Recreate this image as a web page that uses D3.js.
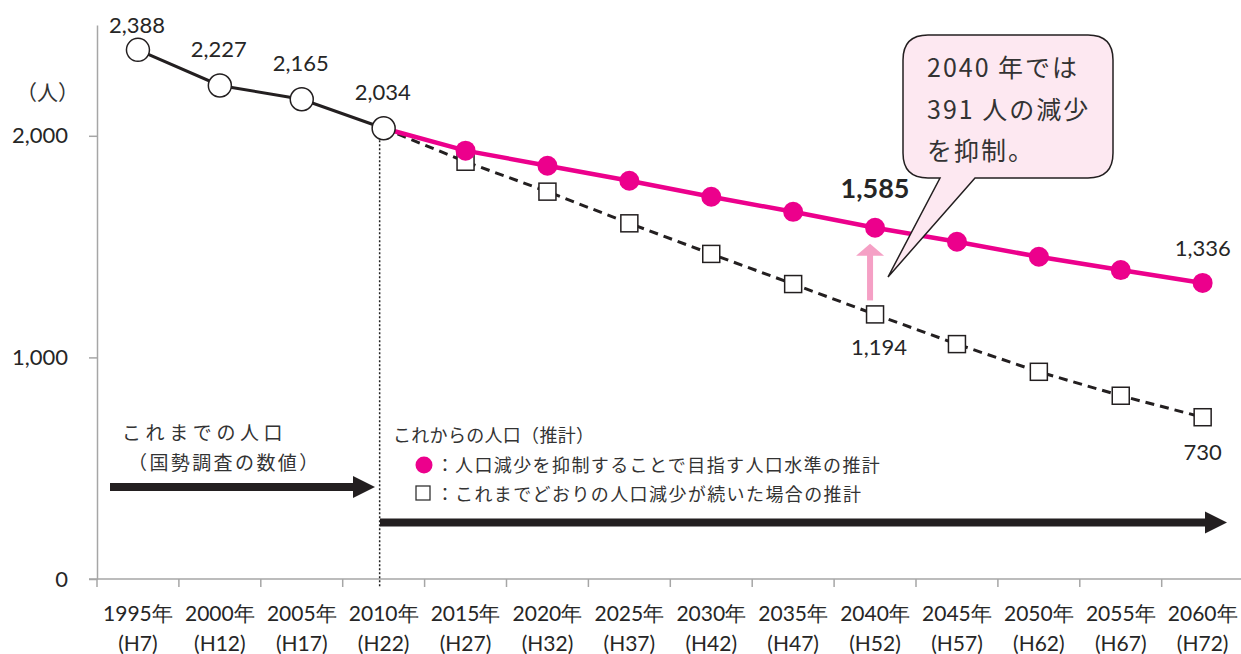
<!DOCTYPE html>
<html><head><meta charset="utf-8">
<script src="https://cdn.jsdelivr.net/npm/d3@7"></script>
<style>
html,body{margin:0;padding:0;background:#fff;}
svg{display:block;}
.num{font-family:Lato,"Open Sans",sans-serif;fill:#262626;}
.jp{font-family:"Noto Sans CJK JP",sans-serif;fill:#333;}
</style></head>
<body>
<svg id="c" width="1241" height="654"></svg>
<script>
// ---- data ----
const years = ["1995","2000","2005","2010","2015","2020","2025","2030","2035","2040","2045","2050","2055","2060"];
const heisei = ["H7","H12","H17","H22","H27","H32","H37","H42","H47","H52","H57","H62","H67","H72"];
const actualYears = ["1995","2000","2005","2010"];
const actual = [2388,2227,2165,2034];
const projYears = ["2010","2015","2020","2025","2030","2035","2040","2045","2050","2055","2060"];
const target = [2034,1933,1865,1797,1725,1657,1585,1522,1454,1394,1336];
const trend = [2034,1883,1748,1605,1467,1331,1194,1060,935,827,730];
const yTicks = [0,1000,2000];
const actualLabels = ["2,388","2,227","2,165","2,034"];

const PINK = "#EC008C";
const svg = d3.select("#c");
const x = d3.scaleBand().domain(years).range([97, 1243.6]).paddingInner(0).paddingOuter(0);
const y = d3.scaleLinear().domain([0, 2500]).range([579, 25]);
const cx = d => x(d) + x.bandwidth()/2;

// y axis
const yAxis = svg.append("g").attr("transform","translate(97,0)")
  .call(d3.axisLeft(y).tickValues(yTicks).tickSize(8).tickSizeOuter(0).tickPadding(21).tickFormat(d3.format(",")));
yAxis.select(".domain").attr("stroke","#a6a6a6").attr("stroke-width",1.5);
yAxis.selectAll(".tick line").attr("stroke","#a6a6a6").attr("stroke-width",1.5);
yAxis.selectAll(".tick text").attr("class","num").style("font-size","22px").attr("fill","#262626")
  .style("font-family","Lato,'Open Sans',sans-serif");

// x axis
svg.append("line").attr("x1",89).attr("x2",1241).attr("y1",y(0)).attr("y2",y(0))
  .attr("stroke","#a6a6a6").attr("stroke-width",1.5);
const bounds = years.map(d => x(d));
svg.selectAll(".xt").data(bounds).enter().append("line")
  .attr("x1",d=>d).attr("x2",d=>d).attr("y1",y(0)).attr("y2",y(0)+8)
  .attr("stroke","#a6a6a6").attr("stroke-width",1.5);
const xl = svg.selectAll(".xl").data(years).enter().append("text")
  .attr("class","num").attr("text-anchor","middle").style("font-size","21px");
xl.append("tspan").attr("x",d=>cx(d)).attr("y",621).text(d=>d+"年");
xl.append("tspan").attr("x",(d,i)=>cx(d)).attr("y",651).text((d,i)=>"("+heisei[i]+")");

// unit
svg.append("text").attr("class","jp").attr("x",16).attr("y",100).style("font-size","21px").text("（人）");

// vertical dotted line
svg.append("line").attr("x1",cx("2010")-4).attr("x2",cx("2010")-4).attr("y1",y(2034)+12).attr("y2",y(0)+8)
  .attr("stroke","#222").attr("stroke-width",1.5).attr("stroke-dasharray","2,2");

// arrows
function arrow(x1, x2, yy){
  const g = svg.append("g");
  g.append("rect").attr("x",x1).attr("y",yy-4).attr("width",x2-x1-20).attr("height",8).attr("fill","#231f20");
  g.append("path").attr("d",`M${x2-22},${yy-11} L${x2},${yy} L${x2-22},${yy+11} Z`).attr("fill","#231f20");
}
arrow(110, 375, 487);
arrow(380, 1227, 522.5);

// annotation texts
svg.append("text").attr("class","jp").attr("x",122).attr("y",440).style("font-size","19px").style("letter-spacing","4.6px").text("これまでの人口");
svg.append("text").attr("class","jp").attr("x",128).attr("y",470).style("font-size","19px").style("letter-spacing","2.4px").text("（国勢調査の数値）");
svg.append("text").attr("class","jp").attr("x",393).attr("y",442).style("font-size","18px").style("letter-spacing","0.3px").text("これからの人口（推計）");
svg.append("circle").attr("cx",424).attr("cy",465).attr("r",8.5).attr("fill",PINK);
svg.append("text").attr("class","jp").attr("x",436).attr("y",472).style("font-size","18px").text("：");
svg.append("text").attr("class","jp").attr("x",455).attr("y",472).style("font-size","18px").style("letter-spacing","1.4px").text("人口減少を抑制することで目指す人口水準の推計");
svg.append("rect").attr("x",416).attr("y",486).attr("width",14).attr("height",14).attr("fill","#fff").attr("stroke","#333").attr("stroke-width",1.3);
svg.append("text").attr("class","jp").attr("x",436).attr("y",501).style("font-size","18px").text("：");
svg.append("text").attr("class","jp").attr("x",455).attr("y",501).style("font-size","18px").style("letter-spacing","1.4px").text("これまでどおりの人口減少が続いた場合の推計");

// trend (dashed)
const line = d3.line().x(d=>cx(d[0])).y(d=>y(d[1]));
const trendPts = projYears.map((d,i)=>[d,trend[i]]);
const targetPts = projYears.map((d,i)=>[d,target[i]]);
const actualPts = actualYears.map((d,i)=>[d,actual[i]]);

svg.append("path").datum(trendPts).attr("d",line).attr("fill","none").attr("stroke","#231f20")
  .attr("stroke-width",3).attr("stroke-dasharray","9,6");
svg.selectAll(".sq").data(trendPts.slice(1)).enter().append("rect")
  .attr("x",d=>cx(d[0])-8.5).attr("y",d=>y(d[1])-8.5).attr("width",17).attr("height",17)
  .attr("fill","#fff").attr("stroke","#231f20").attr("stroke-width",1.5);

svg.append("path").datum(targetPts).attr("d",line).attr("fill","none").attr("stroke",PINK).attr("stroke-width",4.5);
svg.selectAll(".pc").data(targetPts.slice(1)).enter().append("circle")
  .attr("cx",d=>cx(d[0])).attr("cy",d=>y(d[1])).attr("r",10).attr("fill",PINK);

svg.append("path").datum(actualPts).attr("d",line).attr("fill","none").attr("stroke","#231f20").attr("stroke-width",3);
svg.selectAll(".oc").data(actualPts).enter().append("circle")
  .attr("cx",d=>cx(d[0])).attr("cy",d=>y(d[1])).attr("r",11.5).attr("fill","#fff").attr("stroke","#231f20").attr("stroke-width",1.5);

// value labels
svg.selectAll(".al").data(actualPts).enter().append("text").attr("class","num")
  .attr("text-anchor","middle").style("font-size","22px")
  .attr("x",d=>cx(d[0])-1).attr("y",d=>Math.max(y(d[1])-28, 33)).text((d,i)=>actualLabels[i]);

const i40 = projYears.indexOf("2040"), i60 = projYears.indexOf("2060");
svg.append("text").attr("class","num").attr("text-anchor","middle").style("font-size","27px").style("font-weight","bold")
  .attr("x",cx("2040")).attr("y",y(target[i40])-30).text(d3.format(",")(target[i40]));
svg.append("text").attr("class","num").attr("text-anchor","middle").style("font-size","22px")
  .attr("x",cx("2060")).attr("y",y(target[i60])-27).text(d3.format(",")(target[i60]));
svg.append("text").attr("class","num").attr("text-anchor","middle").style("font-size","22px")
  .attr("x",cx("2040")+4).attr("y",y(trend[i40])+41).text(d3.format(",")(trend[i40]));
svg.append("text").attr("class","num").attr("text-anchor","middle").style("font-size","22px")
  .attr("x",cx("2060")).attr("y",y(trend[i60])+43).text(d3.format(",")(trend[i60]));

// pink up arrow
const ax = cx("2040")-5;
const yb = y(trend[i40])-14, yt = y(target[i40])+16;
svg.append("rect").attr("x",ax-3).attr("y",yt+11).attr("width",6).attr("height",yb-yt-11).attr("fill","#F5A0C5");
svg.append("path").attr("d",`M${ax-14},${yt+12} L${ax},${yt} L${ax+14},${yt+12} Z`).attr("fill","#F5A0C5");

// callout bubble
const bx0=903, by0=35, bx1=1113, by1=178, r=25;
svg.append("path").attr("d",
  `M${bx0+r},${by0} H${bx1-r} Q${bx1},${by0} ${bx1},${by0+r} V${by1-r} Q${bx1},${by1} ${bx1-r},${by1} H975 L888,277 L940,${by1} H${bx0+r} Q${bx0},${by1} ${bx0},${by1-r} V${by0+r} Q${bx0},${by0} ${bx0+r},${by0} Z`)
  .attr("fill","#FDE8F1").attr("stroke","#231f20").attr("stroke-width",1.5);
const cl = ["2040 年では","391 人の減少","を抑制。"];
svg.selectAll(".cl").data(cl).enter().append("text").attr("class","jp")
  .attr("x",927).attr("y",(d,i)=>77+i*41.5).style("font-size","25px").style("letter-spacing","2px").text(d=>d);
</script>
</body></html>
